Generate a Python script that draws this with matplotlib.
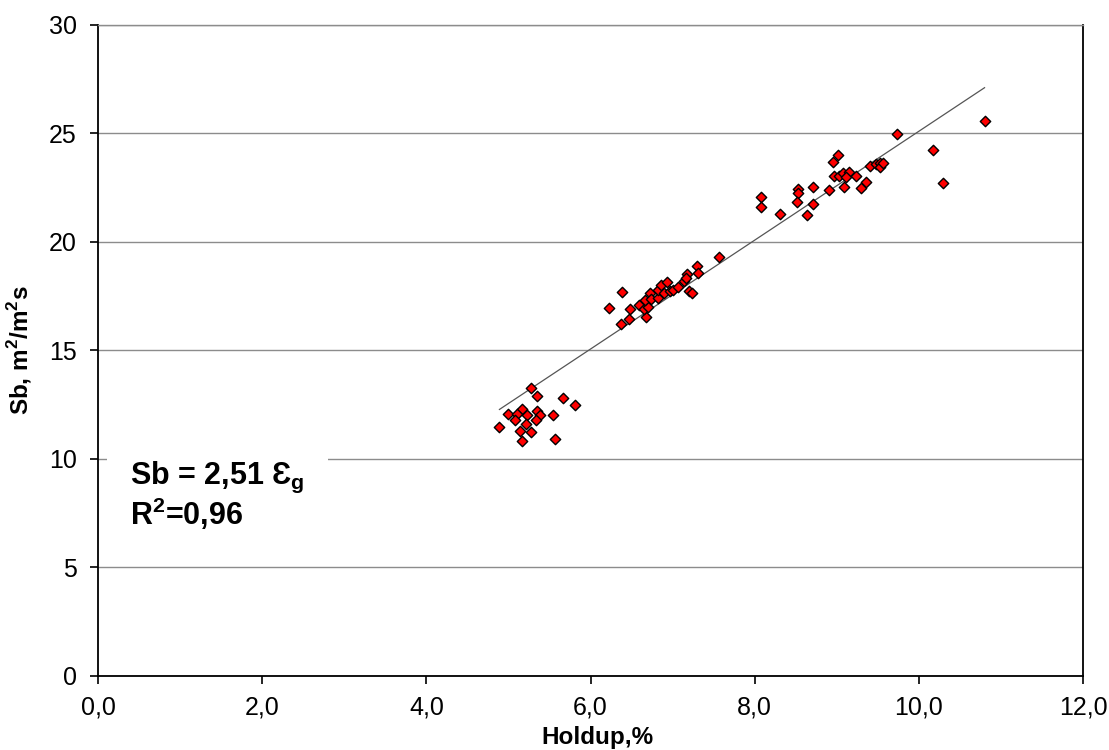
import numpy as np
import matplotlib
matplotlib.use("Agg")
import matplotlib.pyplot as plt
from matplotlib.ticker import FuncFormatter, MultipleLocator

plt.rcParams["font.family"] = ["Liberation Sans", "DejaVu Sans"]
plt.rcParams["mathtext.fontset"] = "custom"
plt.rcParams["mathtext.rm"] = "Liberation Sans"
plt.rcParams["mathtext.bf"] = "Liberation Sans:bold"

# gas holdup (%) and Sb (m2/m2s)
holdup = [5.27, 5.35, 5.66, 5.81, 5.00, 5.16, 5.11, 5.22, 5.35, 5.38,
          5.08, 5.33, 5.54, 4.89, 5.21, 5.14, 5.27, 5.16, 5.57,
          6.38, 6.22, 6.48, 6.37, 6.47, 6.67, 6.59, 6.65, 6.70, 6.66,
          6.72, 6.74, 6.82, 6.82, 6.86, 6.93, 6.89, 6.97, 7.01, 7.07,
          7.14, 7.18, 7.16, 7.20, 7.24, 7.30, 7.31, 7.57,
          8.08, 8.08, 8.31, 8.53, 8.53, 8.52, 8.71, 8.71, 8.64, 8.90,
          8.95, 9.01, 8.96, 9.03, 9.08, 9.15, 9.11, 9.09, 9.23, 9.29,
          9.36, 9.40, 9.48, 9.53, 9.53, 9.56,
          9.73, 10.17, 10.29, 10.80]
sb = [13.25, 12.90, 12.80, 12.47, 12.08, 12.31, 12.08, 12.03, 12.19, 12.02,
      11.79, 11.77, 12.01, 11.45, 11.62, 11.28, 11.22, 10.82, 10.93,
      17.70, 16.94, 16.91, 16.20, 16.46, 16.52, 17.09, 16.91, 17.01, 17.32,
      17.63, 17.35, 17.40, 17.78, 18.01, 18.14, 17.63, 17.74, 17.78, 17.93,
      18.20, 18.52, 18.35, 17.75, 17.66, 18.89, 18.55, 19.29,
      22.06, 21.59, 21.29, 22.43, 22.24, 21.85, 22.53, 21.73, 21.24, 22.38,
      23.70, 24.01, 23.04, 23.05, 23.16, 23.24, 23.01, 22.53, 23.05, 22.47,
      22.78, 23.51, 23.59, 23.65, 23.47, 23.62,
      24.97, 24.23, 22.73, 25.57]
slope = 2.51
r2 = 0.96

x = np.array(holdup)
y = np.array(sb)

fig = plt.figure(figsize=(11.09, 7.5), dpi=100)
ax = fig.add_axes([0.0884, 0.0991, 0.8882, 0.8676])

ax.set_xlim(0, 12)
ax.set_ylim(0, 30)
ax.xaxis.set_major_locator(MultipleLocator(2))
ax.yaxis.set_major_locator(MultipleLocator(5))
ax.xaxis.set_major_formatter(FuncFormatter(lambda v, p: f"{v:.1f}".replace(".", ",")))
ax.yaxis.set_major_formatter(FuncFormatter(lambda v, p: f"{v:.0f}"))
ax.tick_params(labelsize=18, length=5.5, width=1.2, direction="out")
ax.tick_params(axis="y", pad=10)
ax.tick_params(axis="x", pad=9)

ax.yaxis.grid(True, color="#8c8c8c", lw=1.0)
ax.set_axisbelow(True)
for s in ("left", "bottom", "right"):
    ax.spines[s].set_color("black")
    ax.spines[s].set_linewidth(1.3)
ax.spines["top"].set_color("#8c8c8c")
ax.spines["top"].set_linewidth(1.0)

# linear fit through origin
xf = np.array([x.min(), x.max()])
ax.plot(xf, slope * xf, color="#555555", lw=0.9, zorder=2)
ax.scatter(x, y, marker="D", s=28, facecolor="#ff0000", edgecolor="black",
           linewidth=1.0, zorder=3)

ax.set_xlabel("Holdup,%", fontsize=17.5, fontweight="bold", va="top")
ax.xaxis.set_label_coords(0.507, -0.078)
ax.set_ylabel(r"Sb, m$^\mathbf{2}$/m$^\mathbf{2}$s", fontsize=17.5, fontweight="bold")
ax.yaxis.set_label_coords(-0.065, 0.5)

sl = f"{slope:.2f}".replace(".", ",")
ax.text(0.39, 9.95, f"Sb = {sl} \u0190" + r"$_\mathbf{g}$",
        fontsize=22, fontweight="bold", va="top", ha="left", zorder=4,
        bbox=dict(fc="white", ec="none", boxstyle="square,pad=0.75"))
ax.text(0.39, 8.3, r"R$^\mathbf{2}$=" + f"{r2:.2f}".replace(".", ","),
        fontsize=22, fontweight="bold", va="top", ha="left", zorder=4)

fig.savefig("out.png", dpi=100)
